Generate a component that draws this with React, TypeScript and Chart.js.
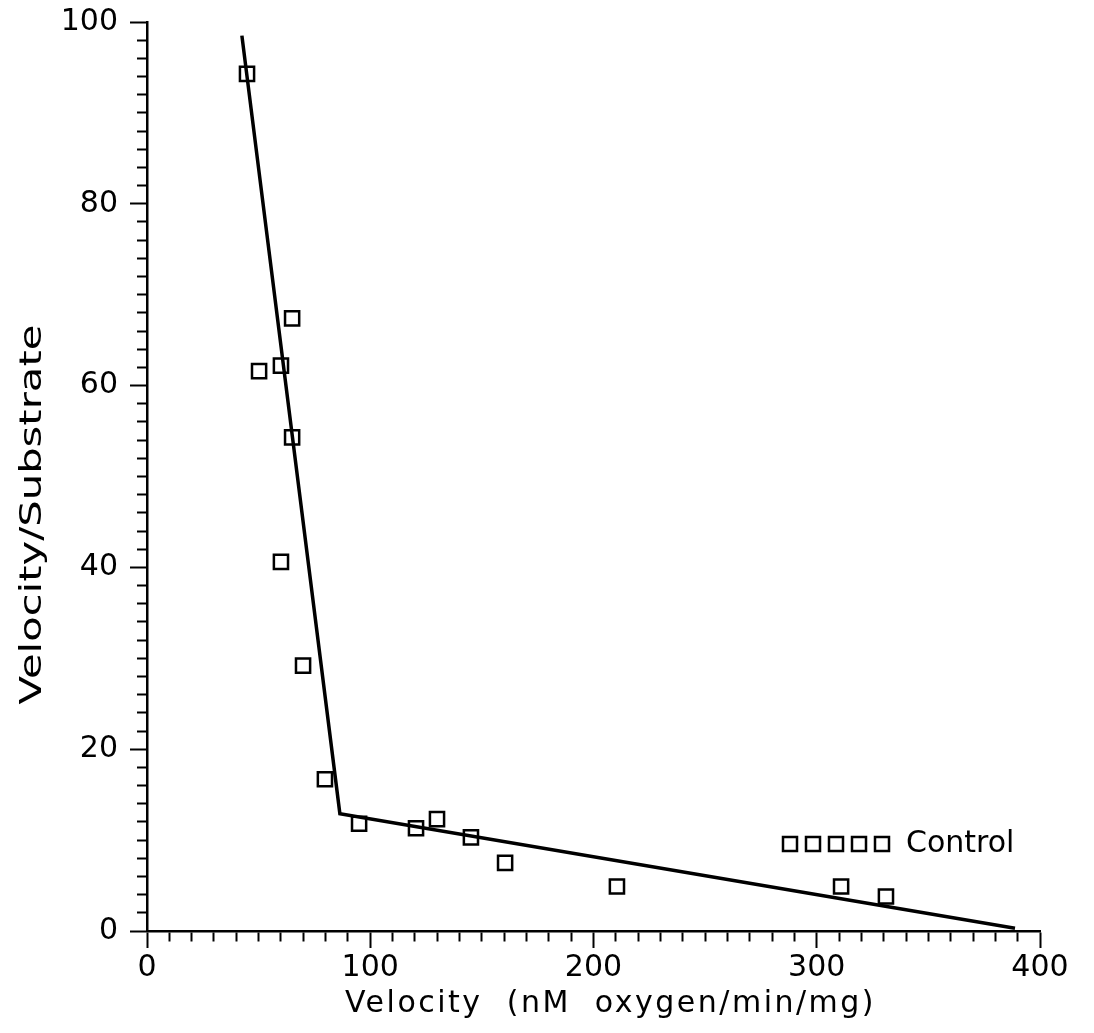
import React, { useEffect, useRef } from "react";
import { Chart, registerables } from "chart.js";

Chart.register(...registerables);

// Measured data (Control)
const velocity = [44.8, 50.2, 60.0, 65.0, 65.0, 60.0, 69.9, 79.7, 95.0, 120.5, 129.9, 145.1, 160.4, 210.5, 310.9, 331.0];
const ratio = [94.3, 61.6, 62.2, 67.4, 54.3, 40.6, 29.2, 16.7, 11.8, 11.3, 12.3, 10.3, 7.5, 4.9, 4.9, 3.8];

// Two-segment fitted line
const fitVelocity = [42.5, 86.4, 388.8];
const fitRatio = [98.5, 12.9, 0.3];

const xTickLabels = [0, 100, 200, 300, 400];
const yTickLabels = [0, 20, 40, 60, 80, 100];
const seriesName = "Control";
const xTitle = "Velocity  (nM  oxygen/min/mg)";
const yTitle = "Velocity/Substrate";

const FONT = '"DejaVu Sans", sans-serif';

const extrasPlugin = {
  id: "extras",
  afterDraw(chart: any) {
    const ctx = chart.ctx as CanvasRenderingContext2D;
    const a = chart.chartArea;
    ctx.save();
    ctx.fillStyle = "#000";
    ctx.strokeStyle = "#000";
    // x title
    ctx.font = `30px ${FONT}`;
    (ctx as any).letterSpacing = "2.5px";
    ctx.textAlign = "center";
    ctx.textBaseline = "alphabetic";
    ctx.fillText(xTitle, a.left + (a.right - a.left) / 2 + 17, 1012);
    (ctx as any).letterSpacing = "0px";
    // y title (stretched along text direction as in the reference)
    ctx.save();
    ctx.translate(41, a.top + (a.bottom - a.top) / 2 + 38);
    ctx.rotate(-Math.PI / 2);
    ctx.scale(1.39, 1);
    ctx.textAlign = "center";
    ctx.textBaseline = "alphabetic";
    ctx.font = `30px ${FONT}`;
    ctx.fillText(yTitle, 0, 0);
    ctx.restore();
    // legend: five square markers + label
    const lx = a.left + 643;
    const ly = a.bottom - 87;
    ctx.lineWidth = 2.5;
    for (let i = 0; i < 5; i++) {
      const cx = lx + i * 23;
      ctx.strokeRect(cx - 7, ly - 7, 14, 14);
    }
    ctx.font = `30px ${FONT}`;
    ctx.textAlign = "left";
    ctx.textBaseline = "middle";
    ctx.fillText(seriesName, lx + 4 * 23 + 24, ly);
    ctx.restore();
  },
};

export default function App() {
  const ref = useRef<HTMLCanvasElement>(null);
  useEffect(() => {
    if (!ref.current) return;
    const chart = new Chart(ref.current, {
      type: "scatter",
      data: {
        datasets: [
          {
            label: seriesName,
            data: velocity.map((v, i) => ({ x: v, y: ratio[i] })),
            pointStyle: "rect",
            pointRadius: 10,
            pointBorderWidth: 2.5,
            pointBorderColor: "#000",
            pointBackgroundColor: "rgba(0,0,0,0)",
            showLine: false,
          },
          {
            label: "fit",
            data: fitVelocity.map((v, i) => ({ x: v, y: fitRatio[i] })),
            showLine: true,
            borderColor: "#000",
            borderWidth: 3.5,
            pointRadius: 0,
            fill: false,
          },
        ],
      },
      options: {
        animation: false,
        responsive: false,
        events: [],
        layout: { padding: { left: 0, top: 22, right: 54, bottom: 0 } },
        plugins: { legend: { display: false }, tooltip: { enabled: false }, title: { display: false } },
        scales: {
          x: {
            type: "linear",
            min: 0,
            max: 400,
            afterFit: (s: any) => {
              s.height = 102;
              s.paddingLeft = 0;
              s.paddingRight = 0;
            },
            border: { display: true, color: "#000", width: 2.5 },
            grid: {
              drawOnChartArea: false,
              drawTicks: true,
              tickLength: 17,
              tickWidth: 2,
              tickColor: "#000",
              tickBorderDash: (c: any) => (xTickLabels.includes(c.tick?.value) ? [] : [9, 100]),
            },
            ticks: {
              stepSize: 10,
              autoSkip: false,
              maxRotation: 0,
              padding: 2,
              color: "#000",
              font: { family: FONT, size: 30 },
              callback: (v: any) => (xTickLabels.includes(v) ? String(v) : ""),
            },
          },
          y: {
            type: "linear",
            min: 0,
            max: 100,
            afterFit: (s: any) => {
              s.width = 147;
              s.paddingTop = 0;
              s.paddingBottom = 0;
            },
            border: { display: true, color: "#000", width: 2.5 },
            grid: {
              drawOnChartArea: false,
              drawTicks: true,
              tickLength: 17,
              tickWidth: 2,
              tickColor: "#000",
              tickBorderDash: (c: any) => (yTickLabels.includes(c.tick?.value) ? [] : [0, 7, 10, 100]),
            },
            ticks: {
              stepSize: 2,
              autoSkip: false,
              padding: 12,
              color: "#000",
              font: { family: FONT, size: 30 },
              callback: (v: any) => (yTickLabels.includes(v) ? String(v) : ""),
            },
          },
        },
      },
      plugins: [extrasPlugin],
    });
    return () => chart.destroy();
  }, []);
  return (
    <div style={{ position: "fixed", left: 0, top: 0, width: 1094, height: 1033, background: "#fff" }}>
      <canvas ref={ref} width={1094} height={1033} style={{ display: "block" }} />
    </div>
  );
}
